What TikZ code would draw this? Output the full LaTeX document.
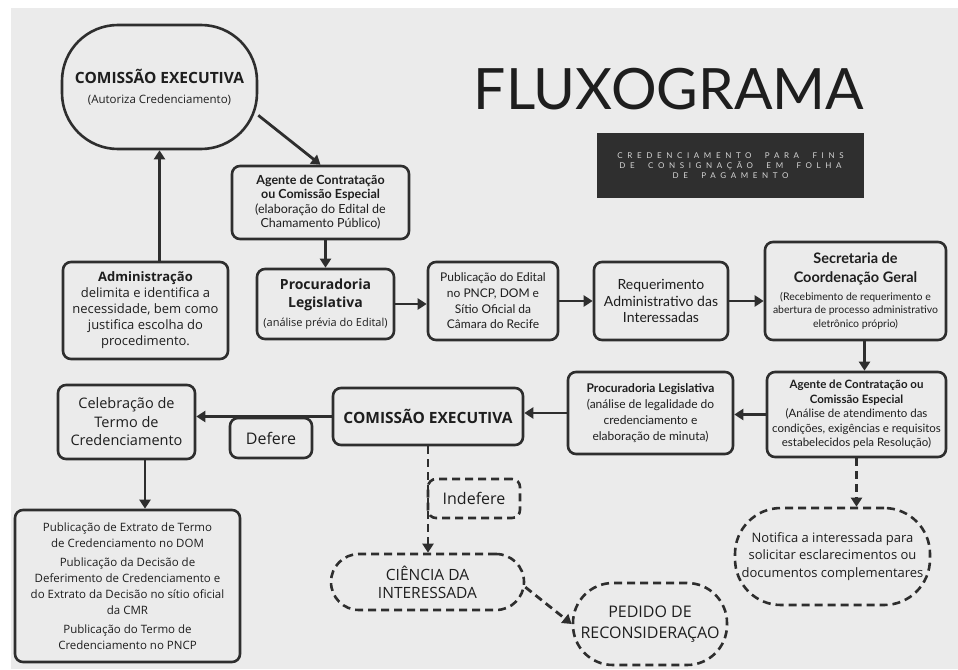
\documentclass[tikz,border=0pt]{standalone}
\usepackage{fontspec}
\setmainfont{Open Sans}
\newfontfamily\lato{Lato}
\newfontfamily\latotrack[LetterSpace=58,WordSpace=2]{Lato}
\usetikzlibrary{arrows.meta}
\definecolor{bg}{HTML}{EBEBEB}
\definecolor{ink}{HTML}{2E2E2E}
\definecolor{txt}{HTML}{1E1E1E}
\definecolor{darkbox}{HTML}{2F2F2F}
\definecolor{lighttxt}{HTML}{D6D6D6}
\newcommand\fsz[2]{\fontsize{#1}{#2}\selectfont}
\begin{document}
\begin{tikzpicture}[x=1pt,y=-1pt,
  every node/.style={text=txt, inner sep=0pt, align=center},
  sbox/.style={draw=ink, line width=2.6pt, rounded corners=8pt},
  dbox/.style={sbox, dash pattern=on 8pt off 5pt},
  arr/.style={draw=ink, line width=2.8pt, -{Triangle[length=9pt,width=11pt]}},
  darr/.style={arr, dash pattern=on 8pt off 5pt},
]
\useasboundingbox (0,0) rectangle (958,669);
\fill[white] (0,0) rectangle (958,669);
\fill[bg] (11,8) rectangle (958,669);

% title
\node (title) at (669,89) {\lato\fsz{57}{60}FLUXOGRAMA};
\node[fill=darkbox, minimum width=267pt, minimum height=65pt, text=lighttxt, font=\latotrack\fsz{8}{10}] (sub) at (730.5,165.5)
  {CREDENCIAMENTO PARA FINS\\DE CONSIGNAÇÃO EM FOLHA\\DE PAGAMENTO};

% shapes
\node[sbox, rounded corners=56pt, minimum width=195pt, minimum height=124pt, font=\fsz{11.5}{20}] (ce1) at (159.5,87)
  {{\fsz{15.5}{20}\bfseries COMISSÃO EXECUTIVA}\\(Autoriza Credenciamento)};
\node[sbox, minimum width=177pt, minimum height=73pt, font=\lato\fsz{12.5}{14.5}] (ag1) at (320.5,202.5)
  {{\bfseries Agente de Contratação}\\{\bfseries ou Comissão Especial}\\(elaboração do Edital de\\Chamamento Público)};
\node[sbox, minimum width=165pt, minimum height=97pt, font=\fsz{13}{16}] (adm) at (145.5,310.5)
  {{\bfseries Administração}\\delimita e identifica a\\necessidade, bem como\\justifica escolha do\\procedimento.};
\node[sbox, minimum width=137pt, minimum height=70pt, font=\fsz{14}{17}] (pl1) at (325.5,304)
  {{\bfseries Procuradoria}\\{\bfseries Legislativa}\\[2pt]{\fsz{11}{17}(análise prévia do Edital)}};
\node[sbox, minimum width=130pt, minimum height=78pt, font=\lato\fsz{12}{15.7}] (pub) at (493,301)
  {Publicação do Edital\\no PNCP, DOM e\\Sítio Oficial da\\Câmara do Recife};
\node[sbox, minimum width=134pt, minimum height=78pt, font=\lato\fsz{14}{16.5}] (req) at (661,301)
  {Requerimento\\Administrativo das\\Interessadas};
\node[sbox, minimum width=181pt, minimum height=98pt, font=\lato\fsz{10.5}{13.5}] (sec) at (855.5,291)
  {{\fsz{14.5}{13.5}\bfseries Secretaria de}\\[5.5pt]{\fsz{14.5}{13.5}\bfseries Coordenação Geral}\\[4.5pt](Recebimento de requerimento e\\abertura de processo administrativo\\eletrônico próprio)};
\node[sbox, minimum width=179pt, minimum height=85pt, font=\lato\fsz{11.5}{14.5}] (ag2) at (856.5,414.5)
  {{\bfseries Agente de Contratação ou}\\{\bfseries Comissão Especial}\\(Análise de atendimento das\\condições, exigências e requisitos\\estabelecidos pela Resolução)};
\node[sbox, minimum width=165pt, minimum height=82pt, font=\lato\fsz{12}{16}] (pr2) at (650.5,413)
  {{\bfseries Procuradoria Legislativa}\\(análise de legalidade do\\credenciamento e\\elaboração de minuta)};
\node[sbox, minimum width=190pt, minimum height=57pt, font=\fsz{15.5}{18}\bfseries] (ce2) at (428,416.5)
  {COMISSÃO EXECUTIVA};
\node[sbox, minimum width=137pt, minimum height=74pt, font=\fsz{14.5}{18.5}] (cel) at (126.5,422)
  {Celebração de\\Termo de\\Credenciamento};
\node[sbox, minimum width=82pt, minimum height=40pt, font=\fsz{16}{18}] (def) at (271,438) {Defere};
\node[dbox, minimum width=92pt, minimum height=39pt, font=\fsz{16}{18}] (ind) at (474,498.5) {Indefere};
\node[sbox, minimum width=225pt, minimum height=152pt, font=\fsz{11.5}{16}] (ext) at (127.5,586)
  {Publicação de Extrato de Termo\\de Credenciamento no DOM\\[3pt]Publicação da Decisão de\\Deferimento de Credenciamento e\\do Extrato da Decisão no sítio oficial\\da CMR\\[3pt]Publicação do Termo de\\Credenciamento no PNCP};
\node[dbox, rounded corners=28pt, minimum width=193pt, minimum height=56pt, font=\fsz{15.5}{18}] (cia) at (427.5,582)
  {CIÊNCIA DA\\INTERESSADA};
\node[dbox, rounded corners=40pt, minimum width=154pt, minimum height=82pt, font=\fsz{16}{21}] (ped) at (650,624)
  {PEDIDO DE\\RECONSIDERAÇAO};
\node[dbox, rounded corners=46pt, minimum width=195pt, minimum height=97pt, font=\fsz{13}{17.5}] (not) at (832.5,556.5)
  {Notifica a interessada para\\solicitar esclarecimentos ou\\documentos complementares};

% connectors
\draw[arr] (adm.north -| ce1.south) -- (ce1.south);
\draw[arr] (ce1.-16.6) -- (ag1.north);
\draw[arr] (ag1.south -| pl1.north) -- (pl1.north);
\draw[arr] (pl1.east) -- (pl1.east -| pub.west);
\draw[arr] (pub.east) -- (req.west);
\draw[arr] (req.east) -- (req.east -| sec.west);
\coordinate (s1) at ([xshift=9pt]sec.south);
\draw[arr] (s1) -- (s1 |- ag2.north);
\draw[arr] (ag2.west) -- (ag2.west -| pr2.east);
\draw[arr] (pr2.west) -- (pr2.west -| ce2.east);
\draw[arr] (ce2.west) -- (ce2.west -| cel.east);
\coordinate (c1) at ([xshift=18.5pt]cel.south);
\draw[arr] (c1) -- (c1 |- ext.north);
\draw[darr] (ce2.south) -- (ce2.south |- cia.north);
\draw[darr] (cia.-3) -- (ped.west);
\draw[darr] (ag2.south) -- (ag2.south |- not.north);
\end{tikzpicture}
\end{document}
